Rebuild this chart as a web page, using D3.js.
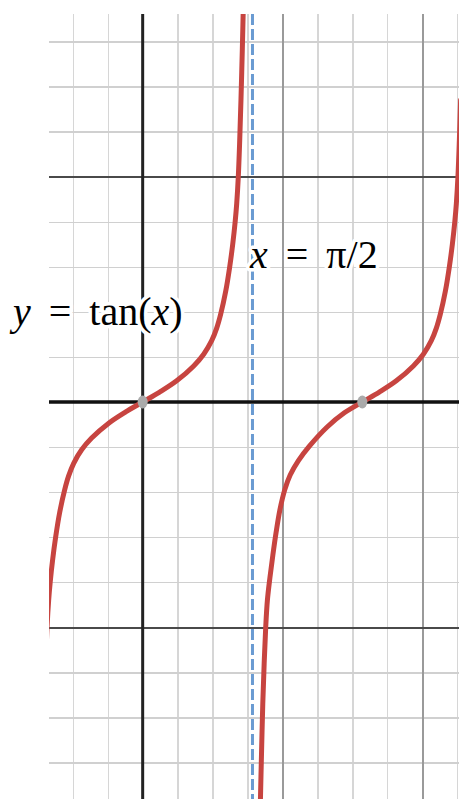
<!DOCTYPE html>
<meta charset="utf-8">
<style>
body { margin: 0; background: #fff; }
.grid line { shape-rendering: crispEdges; }
.curve { fill: none; stroke: #c74440; stroke-width: 5px; stroke-linecap: round; }
.label { font-family: "Liberation Serif", serif; font-size: 40px; fill: #000;
  stroke: #fff; stroke-width: 7px; paint-order: stroke; stroke-linejoin: round; }
</style>
<body>
<script src="https://d3js.org/d3.v7.min.js" charset="utf-8"></script>
<script>
// grid values (x in radians, y in tan units)
var xMinor = [-1, -0.5, 0.5, 1, 1.5, 2.5, 3, 3.5, 4.5];
var xMajor = [2, 4];
var yMinor = [-8, -7, -6, -4, -3, -2, -1, 1, 2, 3, 4, 6, 7, 8];
var yMajor = [-5, 5];

// points, left branch
var branch1X = [-1.406, -1.388, -1.368, -1.345, -1.323, -1.288, -1.245, -1.187, -1.116, -1.059, -0.987, -0.873, -0.730, -0.486, -0.243, 0,
                0.243, 0.486, 0.730, 0.873, 0.987, 1.059, 1.116, 1.187, 1.245, 1.288, 1.323, 1.345, 1.368, 1.388, 1.406, 1.425, 1.44, 1.455];
var branch1Y = [-6.7, -5.8, -5.0, -4.4, -4.0, -3.5, -3.0, -2.45, -1.95, -1.64, -1.36, -1.06, -0.80, -0.47, -0.22, 0,
                0.22, 0.47, 0.80, 1.06, 1.36, 1.64, 1.95, 2.45, 3.0, 3.5, 4.0, 4.4, 5.0, 5.8, 6.7, 7.8, 8.8, 9.9];
// right branch
var branch2X = [1.672, 1.685, 1.700, 1.718, 1.738, 1.760, 1.784, 1.820, 1.862, 1.908, 1.962, 2.032, 2.110, 2.228, 2.385, 2.635, 2.885, 3.142,
                3.385, 3.628, 3.872, 4.015, 4.129, 4.201, 4.258, 4.329, 4.387, 4.430, 4.465, 4.487, 4.510, 4.530, 4.548];
var branch2Y = [-9.9, -8.8, -7.8, -6.7, -5.8, -5.0, -4.4, -3.9, -3.4, -2.9, -2.4, -1.95, -1.62, -1.30, -0.98, -0.56, -0.24, 0,
                0.22, 0.47, 0.80, 1.06, 1.36, 1.64, 1.95, 2.45, 3.0, 3.5, 4.0, 4.4, 5.0, 5.8, 6.7];

var zeros = [0, Math.PI];
var asymptoteX = Math.PI / 2;

var width = 459, height = 799;
var plot = {left: 49, top: 14, right: 459, bottom: 799};

var x = d3.scaleLinear().domain([-1.34, 4.525]).range([plot.left, plot.right]);
var y = d3.scaleLinear().domain([-8.81, 8.61]).range([plot.bottom, plot.top]);

var svg = d3.select("body").append("svg")
    .attr("width", width)
    .attr("height", height);

svg.append("clipPath").attr("id", "clip")
  .append("rect")
    .attr("x", plot.left).attr("y", plot.top)
    .attr("width", plot.right - plot.left)
    .attr("height", plot.bottom - plot.top);

var g = svg.append("g").attr("clip-path", "url(#clip)");

// vertical grid
function vgrid(vals, color, w) {
  g.append("g")
      .attr("class", "grid")
      .attr("transform", "translate(0," + plot.bottom + ")")
      .call(d3.axisBottom(x).tickValues(vals).tickSize(-(plot.bottom - plot.top)).tickFormat(""))
      .call(function(s) { s.select(".domain").remove(); })
      .selectAll("line")
      .attr("stroke", color)
      .attr("stroke-width", w);
}
// horizontal grid
function hgrid(vals, color, w) {
  g.append("g")
      .attr("class", "grid")
      .attr("transform", "translate(" + plot.left + ",0)")
      .call(d3.axisLeft(y).tickValues(vals).tickSize(-(plot.right - plot.left)).tickFormat(""))
      .call(function(s) { s.select(".domain").remove(); })
      .selectAll("line")
      .attr("stroke", color)
      .attr("stroke-width", w);
}

vgrid(xMinor, "#d6d6d6", 1.3);
hgrid(yMinor, "#d0d0d0", 1.3);
vgrid(xMajor, "#9a9a9a", 1.5);
hgrid(yMajor, "#4a4a4a", 1.4);

// axes
g.append("line")
    .attr("x1", x(0)).attr("x2", x(0))
    .attr("y1", plot.top).attr("y2", plot.bottom)
    .attr("stroke", "#222").attr("stroke-width", 3);
g.append("line")
    .attr("x1", plot.left).attr("x2", plot.right)
    .attr("y1", y(0)).attr("y2", y(0))
    .attr("stroke", "#111").attr("stroke-width", 3.5);

// asymptote
g.append("line")
    .attr("x1", x(asymptoteX)).attr("x2", x(asymptoteX))
    .attr("y1", plot.top).attr("y2", plot.bottom)
    .attr("stroke", "#6a9bd2")
    .attr("stroke-width", 3)
    .attr("stroke-dasharray", "11,4");

// the curve
var line = d3.line()
    .x(function(d) { return x(d[0]); })
    .y(function(d) { return y(d[1]); })
    .curve(d3.curveCatmullRom.alpha(0.5));

[[branch1X, branch1Y], [branch2X, branch2Y]].forEach(function(b) {
  g.append("path")
      .datum(d3.zip(b[0], b[1]))
      .attr("class", "curve")
      .attr("d", line);
});

// zero points
g.selectAll(".zero")
  .data(zeros).enter()
  .append("ellipse")
    .attr("class", "zero")
    .attr("cx", function(d) { return x(d); })
    .attr("cy", y(0))
    .attr("rx", 5)
    .attr("ry", 6.5)
    .attr("fill", "#aaaaaa");

// labels
var t1 = svg.append("text").attr("class", "label")
    .attr("x", 13).attr("y", 325).attr("word-spacing", 8);
t1.append("tspan").attr("font-style", "italic").text("y");
t1.append("tspan").text(" = tan(");
t1.append("tspan").attr("font-style", "italic").text("x");
t1.append("tspan").text(")");

var t2 = svg.append("text").attr("class", "label")
    .attr("x", 250).attr("y", 268).attr("word-spacing", 8);
t2.append("tspan").attr("font-style", "italic").text("x");
t2.append("tspan").text(" = π/2");
</script>
</body>
